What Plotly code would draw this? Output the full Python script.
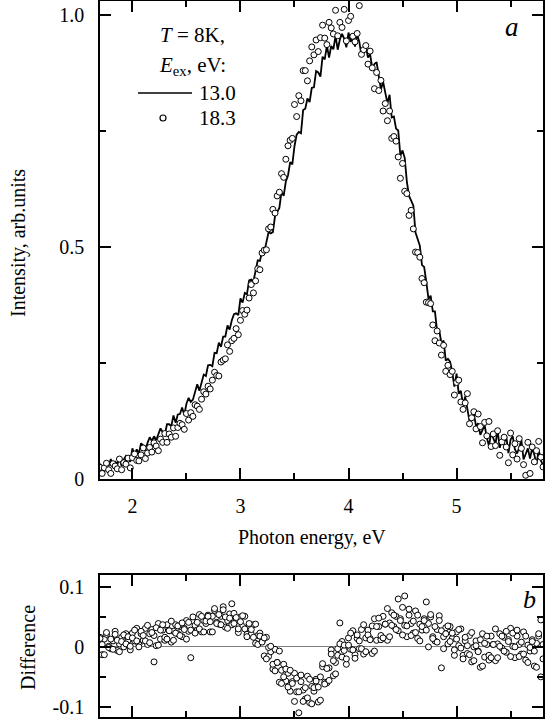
import plotly.graph_objects as go

# ---------------- data ----------------
x_energy = [
    1.70, 1.72, 1.74, 1.76, 1.78, 1.80, 1.82, 1.84, 1.86, 1.88,
    1.90, 1.92, 1.94, 1.96, 1.98, 2.00, 2.02, 2.04, 2.06, 2.08,
    2.10, 2.12, 2.14, 2.16, 2.18, 2.20, 2.22, 2.24, 2.26, 2.28,
    2.30, 2.32, 2.34, 2.36, 2.38, 2.40, 2.42, 2.44, 2.46, 2.48,
    2.50, 2.52, 2.54, 2.56, 2.58, 2.60, 2.62, 2.64, 2.66, 2.68,
    2.70, 2.72, 2.74, 2.76, 2.78, 2.80, 2.82, 2.84, 2.86, 2.88,
    2.90, 2.92, 2.94, 2.96, 2.98, 3.00, 3.02, 3.04, 3.06, 3.08,
    3.10, 3.12, 3.14, 3.16, 3.18, 3.20, 3.22, 3.24, 3.26, 3.28,
    3.30, 3.32, 3.34, 3.36, 3.38, 3.40, 3.42, 3.44, 3.46, 3.48,
    3.50, 3.52, 3.54, 3.56, 3.58, 3.60, 3.62, 3.64, 3.66, 3.68,
    3.70, 3.72, 3.74, 3.76, 3.78, 3.80, 3.82, 3.84, 3.86, 3.88,
    3.90, 3.92, 3.94, 3.96, 3.98, 4.00, 4.02, 4.04, 4.06, 4.08,
    4.10, 4.12, 4.14, 4.16, 4.18, 4.20, 4.22, 4.24, 4.26, 4.28,
    4.30, 4.32, 4.34, 4.36, 4.38, 4.40, 4.42, 4.44, 4.46, 4.48,
    4.50, 4.52, 4.54, 4.56, 4.58, 4.60, 4.62, 4.64, 4.66, 4.68,
    4.70, 4.72, 4.74, 4.76, 4.78, 4.80, 4.82, 4.84, 4.86, 4.88,
    4.90, 4.92, 4.94, 4.96, 4.98, 5.00, 5.02, 5.04, 5.06, 5.08,
    5.10, 5.12, 5.14, 5.16, 5.18, 5.20, 5.22, 5.24, 5.26, 5.28,
    5.30, 5.32, 5.34, 5.36, 5.38, 5.40, 5.42, 5.44, 5.46, 5.48,
    5.50, 5.52, 5.54, 5.56, 5.58, 5.60, 5.62, 5.64, 5.66, 5.68,
    5.70, 5.72, 5.74, 5.76, 5.78, 5.80,
]

# E_ex = 13.0 eV (solid line)
intensity_13_0 = [
    0.033, 0.026, 0.016, 0.036, 0.028, 0.043, 0.025, 0.038, 0.031, 0.046,
    0.028, 0.042, 0.050, 0.046, 0.037, 0.066, 0.050, 0.064, 0.055, 0.077,
    0.072, 0.062, 0.078, 0.090, 0.082, 0.092, 0.084, 0.097, 0.109, 0.101,
    0.096, 0.118, 0.118, 0.114, 0.137, 0.121, 0.139, 0.140, 0.154, 0.138,
    0.162, 0.175, 0.166, 0.171, 0.186, 0.204, 0.190, 0.207, 0.225, 0.222,
    0.245, 0.246, 0.243, 0.272, 0.271, 0.294, 0.285, 0.307, 0.307, 0.331,
    0.322, 0.342, 0.355, 0.357, 0.353, 0.389, 0.380, 0.401, 0.398, 0.428,
    0.430, 0.426, 0.452, 0.471, 0.470, 0.490, 0.488, 0.511, 0.532, 0.529,
    0.532, 0.567, 0.576, 0.584, 0.619, 0.610, 0.641, 0.654, 0.683, 0.678,
    0.717, 0.742, 0.748, 0.745, 0.795, 0.798, 0.820, 0.812, 0.843, 0.844,
    0.879, 0.876, 0.867, 0.910, 0.904, 0.934, 0.908, 0.933, 0.926, 0.955,
    0.925, 0.947, 0.959, 0.949, 0.930, 0.962, 0.942, 0.955, 0.932, 0.958,
    0.942, 0.912, 0.927, 0.933, 0.908, 0.915, 0.886, 0.894, 0.898, 0.863,
    0.839, 0.856, 0.834, 0.810, 0.828, 0.779, 0.781, 0.755, 0.751, 0.697,
    0.708, 0.692, 0.641, 0.610, 0.600, 0.589, 0.531, 0.517, 0.503, 0.461,
    0.457, 0.425, 0.388, 0.395, 0.361, 0.361, 0.318, 0.320, 0.293, 0.298,
    0.255, 0.259, 0.253, 0.230, 0.199, 0.227, 0.184, 0.190, 0.159, 0.178,
    0.154, 0.124, 0.136, 0.141, 0.114, 0.120, 0.095, 0.106, 0.116, 0.089,
    0.071, 0.100, 0.088, 0.076, 0.104, 0.067, 0.087, 0.079, 0.092, 0.056,
    0.085, 0.092, 0.064, 0.055, 0.068, 0.084, 0.042, 0.054, 0.066, 0.044,
    0.067, 0.052, 0.032, 0.063, 0.040, 0.030,
]

# E_ex = 18.3 eV (open circles)
intensity_18_3 = [
    0.025, 0.012, 0.024, 0.034, 0.020, 0.012, 0.033, 0.028, 0.022, 0.043,
    0.020, 0.035, 0.032, 0.045, 0.024, 0.046, 0.054, 0.040, 0.039, 0.052,
    0.067, 0.044, 0.056, 0.068, 0.058, 0.078, 0.071, 0.061, 0.086, 0.079,
    0.098, 0.079, 0.097, 0.090, 0.110, 0.092, 0.111, 0.120, 0.117, 0.107,
    0.141, 0.127, 0.143, 0.135, 0.160, 0.157, 0.150, 0.172, 0.188, 0.183,
    0.200, 0.194, 0.213, 0.230, 0.223, 0.222, 0.252, 0.256, 0.259, 0.289,
    0.275, 0.298, 0.303, 0.324, 0.311, 0.342, 0.363, 0.355, 0.364, 0.390,
    0.419, 0.401, 0.427, 0.453, 0.451, 0.487, 0.493, 0.494, 0.539, 0.543,
    0.581, 0.573, 0.610, 0.618, 0.658, 0.650, 0.689, 0.718, 0.730, 0.734,
    0.807, 0.781, 0.826, 0.815, 0.880, 0.880, 0.858, 0.901, 0.931, 0.914,
    0.946, 0.921, 0.951, 0.978, 0.950, 0.936, 0.984, 0.972, 0.959, 1.010,
    0.955, 0.984, 0.973, 1.012, 0.944, 0.988, 0.997, 0.954, 0.942, 0.960,
    1.020, 0.915, 0.925, 0.934, 0.894, 0.922, 0.886, 0.841, 0.876, 0.837,
    0.859, 0.793, 0.809, 0.772, 0.793, 0.734, 0.738, 0.728, 0.694, 0.648,
    0.680, 0.620, 0.615, 0.568, 0.579, 0.539, 0.489, 0.488, 0.478, 0.432,
    0.423, 0.381, 0.380, 0.378, 0.332, 0.298, 0.319, 0.293, 0.267, 0.288,
    0.232, 0.245, 0.225, 0.232, 0.181, 0.208, 0.213, 0.166, 0.150, 0.164,
    0.184, 0.119, 0.132, 0.145, 0.108, 0.140, 0.113, 0.078, 0.122, 0.093,
    0.124, 0.070, 0.097, 0.072, 0.104, 0.051, 0.080, 0.090, 0.069, 0.035,
    0.099, 0.052, 0.076, 0.043, 0.087, 0.066, 0.031, 0.008, 0.079, 0.012,
    0.069, 0.037, 0.061, 0.081, 0.047, 0.026,
]

# Difference panel (two scatter sweeps on the same energy grid)
difference_a = [
    0.016, -0.013, 0.013, 0.021, 0.001, -0.003, 0.010, 0.026, -0.006, 0.005,
    0.016, 0.000, 0.022, 0.011, -0.005, 0.023, 0.010, 0.031, 0.004, 0.022,
    0.011, 0.031, 0.004, 0.022, 0.029, 0.019, 0.002, 0.039, 0.013, 0.028,
    0.011, 0.037, 0.027, 0.008, 0.026, 0.037, 0.022, 0.034, 0.017, 0.031,
    0.044, 0.026, -0.018, 0.043, 0.036, 0.028, 0.054, 0.025, 0.044, 0.039,
    0.053, 0.025, 0.051, 0.061, 0.041, 0.038, 0.051, 0.067, 0.033, 0.044,
    0.055, 0.037, 0.056, 0.043, 0.024, 0.050, 0.034, 0.051, 0.021, 0.035,
    0.021, 0.037, 0.006, 0.019, 0.023, 0.009, -0.015, 0.016, -0.016, -0.008,
    -0.037, -0.004, -0.026, -0.059, -0.039, -0.029, -0.057, -0.044, -0.074, -0.058,
    -0.044, -0.075, -0.110, -0.058, -0.072, -0.087, -0.049, -0.093, -0.066, -0.074,
    -0.054, -0.092, -0.050, -0.033, -0.059, -0.060, -0.035, -0.005, -0.048, -0.026,
    -0.003, 0.040, 0.009, -0.006, -0.029, 0.015, -0.004, 0.027, -0.013, 0.014,
    -0.003, 0.029, -0.012, 0.015, 0.028, 0.014, -0.011, 0.047, 0.011, 0.034,
    0.012, 0.051, 0.038, 0.011, 0.040, 0.057, 0.034, 0.051, 0.027, 0.047,
    0.066, 0.036, 0.017, 0.053, 0.039, 0.023, 0.060, 0.014, 0.038, 0.028,
    0.047, 0.075, 0.039, 0.050, 0.017, 0.010, 0.029, 0.052, -0.035, 0.017,
    0.032, 0.005, 0.034, 0.014, -0.014, 0.025, 0.002, 0.030, -0.014, 0.010,
    -0.011, 0.019, -0.025, 0.000, 0.010, -0.007, -0.034, 0.022, -0.017, 0.004,
    -0.022, 0.018, 0.004, -0.023, 0.005, 0.022, -0.002, 0.016, -0.009, 0.012,
    0.031, 0.001, -0.018, 0.018, 0.004, -0.012, 0.025, -0.022, 0.003, -0.007,
    0.012, -0.032, 0.006, 0.018, -0.050, -0.020,
]
difference_b = [
    0.014, 0.004, -0.013, 0.024, -0.001, 0.013, -0.004, 0.021, 0.011, -0.008,
    0.009, 0.020, 0.005, 0.017, 0.001, 0.015, 0.028, 0.010, 0.000, 0.026,
    0.019, 0.010, 0.036, 0.007, 0.024, -0.025, 0.032, 0.003, 0.028, 0.037,
    0.016, 0.013, 0.027, 0.043, 0.011, 0.023, 0.035, 0.019, 0.040, 0.029,
    0.013, 0.041, 0.028, 0.050, 0.023, 0.041, 0.030, 0.051, 0.025, 0.043,
    0.051, 0.042, 0.025, 0.064, 0.039, 0.054, 0.037, 0.062, 0.050, 0.031,
    0.048, 0.072, 0.039, 0.049, 0.030, 0.042, 0.052, 0.030, 0.017, 0.039,
    0.029, 0.016, 0.038, 0.004, 0.018, 0.008, 0.015, -0.020, -0.001, 0.001,
    -0.029, -0.040, -0.026, -0.007, -0.061, -0.050, -0.037, -0.067, -0.039, -0.061,
    -0.091, -0.052, -0.075, -0.047, -0.091, -0.068, -0.085, -0.054, -0.095, -0.068,
    -0.057, -0.067, -0.089, -0.028, -0.062, -0.036, -0.056, -0.012, -0.023, -0.045,
    -0.014, 0.005, -0.017, 0.003, -0.020, 0.003, 0.023, -0.005, -0.019, 0.020,
    0.010, -0.003, 0.037, -0.008, 0.020, 0.012, 0.035, -0.007, 0.034, 0.048,
    0.019, 0.015, 0.038, 0.064, 0.017, 0.036, 0.053, 0.029, 0.080, 0.044,
    0.020, 0.085, 0.035, 0.063, 0.019, 0.043, 0.024, 0.053, 0.010, 0.034,
    0.044, 0.028, 0.000, 0.054, 0.014, 0.034, 0.008, 0.044, 0.027, -0.003,
    0.022, 0.035, 0.009, 0.023, -0.005, 0.013, 0.029, -0.002, -0.020, 0.016,
    0.002, -0.013, 0.024, -0.023, 0.002, -0.008, 0.012, -0.032, 0.006, 0.018,
    -0.014, -0.018, 0.004, 0.030, -0.018, 0.001, 0.018, -0.007, 0.026, 0.009,
    -0.016, 0.023, 0.000, 0.028, -0.016, 0.008, -0.012, 0.018, -0.026, -0.001,
    0.009, -0.007, -0.034, 0.022, 0.045, 0.004,
]

x_ticks = [2, 3, 4, 5]
x_minor = [2.5, 3.5, 4.5, 5.5]
y_ticks_top = [0, 0.5, 1.0]
y_ticktext_top = ["0", "0.5", "1.0"]
y_minor_top = [0.25, 0.75]
y_ticks_bot = [-0.1, 0, 0.1]
y_ticktext_bot = ["-0.1", "0", "0.1"]
y_minor_bot = [-0.05, 0.05]

# ---------------- figure ----------------
FONT = "Liberation Serif, Times New Roman, serif"
W, H = 554, 721
ML, MR, MT, MB = 100, 11, 1, 4
PW, PH = W - ML - MR, H - MT - MB
X_RANGE = [1.7, 5.8]
Y_RANGE_TOP = [0, 1.03]
Y_RANGE_BOT = [-0.117, 0.12]


def px(xp):
    return (xp - ML) / PW


def py(yp):
    return 1 - (yp - MT) / PH


TOP_DOM = [py(479), 1.0]
BOT_DOM = [0.0, py(575)]

fig = go.Figure()
fig.add_trace(go.Scatter(
    x=x_energy, y=intensity_13_0, mode="lines",
    line=dict(color="black", width=1.8),
    xaxis="x", yaxis="y", showlegend=False, hoverinfo="skip"))
fig.add_trace(go.Scatter(
    x=x_energy, y=intensity_18_3, mode="markers",
    marker=dict(symbol="circle", size=6, color="white",
                line=dict(color="black", width=1)),
    xaxis="x", yaxis="y", showlegend=False, hoverinfo="skip"))
fig.add_trace(go.Scatter(
    x=x_energy + x_energy, y=difference_a + difference_b, mode="markers",
    marker=dict(symbol="circle", size=6, color="white",
                line=dict(color="black", width=1)),
    xaxis="x2", yaxis="y2", showlegend=False, hoverinfo="skip"))

TICKFONT = dict(family=FONT, size=20, color="black")


def axis(tickvals, minorvals, **kw):
    d = dict(showline=True, linecolor="black", linewidth=1.5, mirror="ticks",
             ticks="inside", ticklen=11, tickwidth=1.5, tickcolor="black",
             tickmode="array", tickvals=tickvals,
             minor=dict(ticks="inside", ticklen=6, tickwidth=1.5, tickcolor="black",
                        tickmode="array", tickvals=minorvals, showgrid=False),
             showgrid=False, zeroline=False, tickfont=TICKFONT,
             layer="above traces", automargin=False)
    d.update(kw)
    return d


fig.update_layout(
    template="simple_white",
    width=W, height=H, autosize=False,
    margin=dict(l=ML, r=MR, t=MT, b=MB, autoexpand=False),
    paper_bgcolor="white", plot_bgcolor="white",
    font=dict(family=FONT, size=20, color="black"),
    xaxis=axis(x_ticks, x_minor, domain=[0, 1], range=X_RANGE, anchor="y",
               ticktext=[str(v) for v in x_ticks], ticklabelstandoff=8),
    yaxis=axis(y_ticks_top, y_minor_top, domain=TOP_DOM, range=Y_RANGE_TOP, anchor="x",
               ticktext=y_ticktext_top, ticklabelstandoff=10),
    xaxis2=axis(x_ticks, x_minor, domain=[0, 1], range=X_RANGE, anchor="y2",
                showticklabels=False),
    yaxis2=axis(y_ticks_bot, y_minor_bot, domain=BOT_DOM, range=Y_RANGE_BOT, anchor="x2",
                ticktext=y_ticktext_bot, ticklabelstandoff=10,
                zeroline=True, zerolinecolor="#808080", zerolinewidth=1),
)

ann = []


def add_text(text, xp, yp, size=20, xanchor="center", yanchor="middle", angle=0):
    ann.append(dict(text=text, x=px(xp), y=py(yp), xref="paper", yref="paper",
                    xanchor=xanchor, yanchor=yanchor, showarrow=False, textangle=angle,
                    font=dict(family=FONT, size=size, color="black")))


add_text("Intensity, arb.units", 18, 243, angle=-90)
add_text("Difference", 28, 648, angle=-90)
add_text("Photon energy, eV", 312, 537)
add_text("<i>a</i>", 512, 27, size=27)
add_text("<i>b</i>", 529, 599, size=26)
add_text("<i>T</i> = 8K,", 192, 35, size=21)
add_text("<i>E</i><sub>ex</sub>, eV:", 192, 66, size=21)
add_text("13.0", 197, 93, size=21, xanchor="left")
add_text("18.3", 197, 118, size=21, xanchor="left")
fig.update_layout(annotations=ann)

fig.add_shape(type="line", xref="paper", yref="paper", opacity=1,
              x0=px(138), x1=px(192), y0=py(93), y1=py(93),
              line=dict(color="black", width=1.5))
fig.add_shape(type="circle", xref="paper", yref="paper", opacity=1,
              xsizemode="pixel", ysizemode="pixel",
              xanchor=px(163), yanchor=py(118), x0=-3, x1=3, y0=-3, y1=3,
              line=dict(color="black", width=1.2), fillcolor="white")

fig.write_html(
    "out.html",
    config={"displayModeBar": False, "responsive": False},
    post_script="document.body.style.margin='0';document.body.style.padding='0';",
)
